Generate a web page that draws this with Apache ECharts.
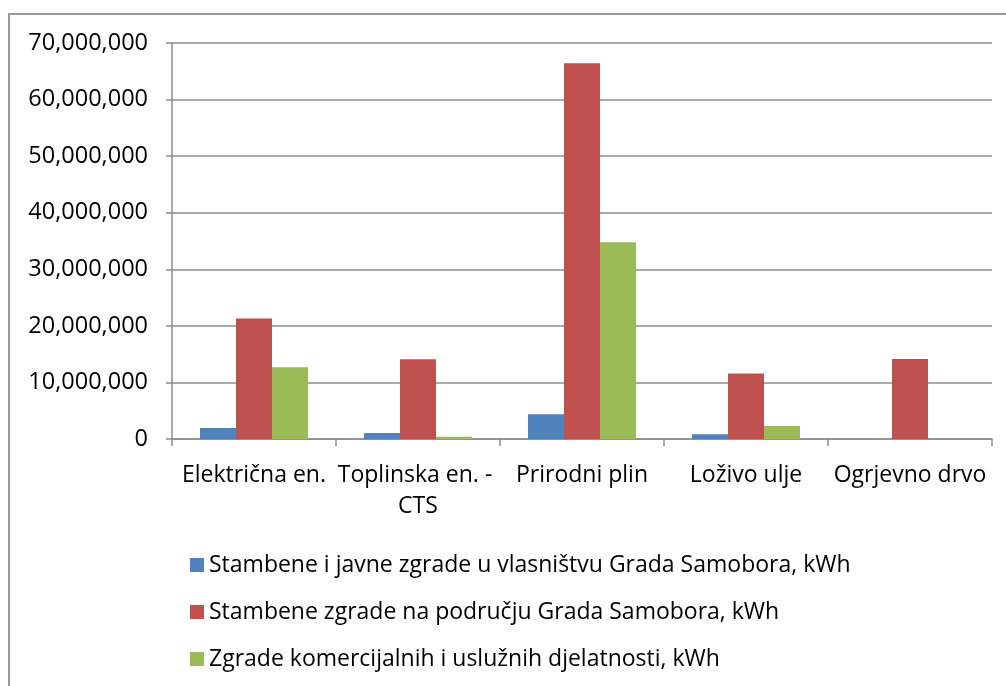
<!DOCTYPE html>
<html>
<head>
<meta charset="utf-8">
<title>Potrošnja energije - Grad Samobor</title>
<script src="https://cdn.jsdelivr.net/npm/echarts@6/dist/echarts.min.js"></script>
<style>
  html, body { margin: 0; padding: 0; background: #fff; }
  #chart { width: 1006px; height: 686px; }
</style>
</head>
<body>
<div id="chart"></div>
<script>
// energenti (x os)
var categories = ['Električna en.', 'Toplinska en. - CTS', 'Prirodni plin', 'Loživo ulje', 'Ogrjevno drvo']

// potrošnja po sektorima, kWh
var javneZgrade = [1940000, 1060000, 4370000, 830000, 0]
var stambeneZgrade = [21300000, 14100000, 66400000, 11600000, 14150000]
var komercijalneZgrade = [12700000, 400000, 34800000, 2300000, 0]

var seriesNames = [
  'Stambene i javne zgrade u vlasništvu Grada Samobora, kWh',
  'Stambene zgrade na području Grada Samobora, kWh',
  'Zgrade komercijalnih i uslužnih djelatnosti, kWh'
]

// y os
var yMin = 0
var yMax = 70000000
var yStep = 10000000

var FONT = '"Open Sans", "Noto Sans", sans-serif'
var GRID_COLOR = '#8c8c8c'

var chart = echarts.init(document.getElementById('chart'))

chart.setOption({
  animation: false,
  color: ['#4f81bd', '#c0504d', '#9bbb59'],
  textStyle: { fontFamily: FONT, color: '#000' },
  graphic: [{
    type: 'rect',
    shape: { x: 9, y: 14, width: 1100, height: 1000 },
    style: { fill: 'none', stroke: '#999', lineWidth: 2 },
    silent: true
  }],
  grid: {
    left: 172,
    right: 14,
    top: 43,
    bottom: 247
  },
  legend: {
    orient: 'vertical',
    left: 185,
    top: 548,
    icon: 'rect',
    itemWidth: 14,
    itemHeight: 14,
    itemGap: 23,
    textStyle: { fontSize: 23, lineHeight: 24, color: '#000', fontFamily: FONT },
    data: seriesNames
  },
  xAxis: {
    type: 'category',
    data: categories,
    axisLine: { lineStyle: { color: GRID_COLOR, width: 1.5 } },
    axisTick: { show: true, interval: 0, length: 7, lineStyle: { color: GRID_COLOR, width: 1.5 } },
    axisLabel: {
      interval: 0,
      margin: 21,
      fontSize: 23,
      lineHeight: 31,
      color: '#000',
      width: 162,
      overflow: 'break'
    }
  },
  yAxis: {
    type: 'value',
    min: yMin,
    max: yMax,
    interval: yStep,
    axisLine: { show: true, lineStyle: { color: GRID_COLOR, width: 1.5 } },
    axisTick: { show: true, length: 6, lineStyle: { color: GRID_COLOR, width: 1.5 } },
    splitLine: { lineStyle: { color: GRID_COLOR, width: 1.5 } },
    axisLabel: {
      margin: 24,
      fontSize: 23.5,
      color: '#000',
      formatter: function (v) {
        return v.toLocaleString('en-US')
      }
    }
  },
  series: [{
    name: seriesNames[0],
    type: 'bar',
    data: javneZgrade,
    barWidth: 36,
    barGap: '0%'
  }, {
    name: seriesNames[1],
    type: 'bar',
    data: stambeneZgrade,
    barWidth: 36,
    barGap: '0%'
  }, {
    name: seriesNames[2],
    type: 'bar',
    data: komercijalneZgrade,
    barWidth: 36,
    barGap: '0%'
  }]
})
</script>
</body>
</html>
